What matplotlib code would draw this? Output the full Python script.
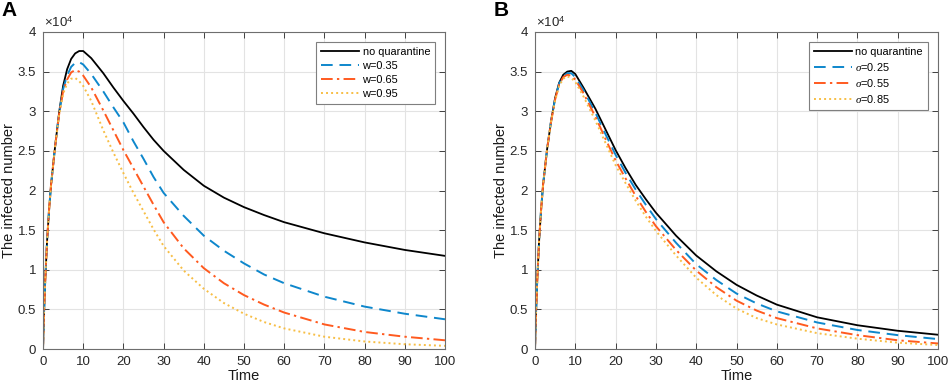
import matplotlib
matplotlib.use("Agg")
import matplotlib.pyplot as plt
import numpy as np

plt.rcParams['font.family'] = ['Liberation Sans', 'DejaVu Sans']
plt.rcParams['mathtext.fontset'] = 'custom'
plt.rcParams['mathtext.it'] = 'Liberation Serif:italic'
plt.rcParams['mathtext.rm'] = 'Liberation Sans'

# time points
t = [0, 0.25, 0.5, 1, 1.5, 2, 3, 4, 5, 6, 7, 8, 9, 10, 12, 15, 17.5, 20, 22.5,
     25, 27.5, 30, 35, 40, 45, 50, 55, 60, 70, 80, 90, 100]

# Panel A (values in units of 1e4)
a_noq = [0, 0.45, 0.8, 1.35, 1.75, 2.07, 2.55, 2.98, 3.32, 3.53, 3.66, 3.73, 3.76, 3.76,
         3.67, 3.48, 3.30, 3.13, 2.97, 2.80, 2.64, 2.50, 2.26, 2.06, 1.91, 1.79, 1.69,
         1.60, 1.46, 1.345, 1.25, 1.175]
a_w035 = [0, 0.45, 0.8, 1.35, 1.75, 2.07, 2.55, 2.97, 3.28, 3.45, 3.56, 3.61, 3.62, 3.59,
          3.47, 3.25, 3.05, 2.86, 2.62, 2.40, 2.17, 1.97, 1.68, 1.43, 1.24, 1.08, 0.94,
          0.83, 0.66, 0.535, 0.445, 0.375]
a_w065 = [0, 0.45, 0.8, 1.35, 1.75, 2.07, 2.55, 2.96, 3.25, 3.40, 3.49, 3.52, 3.50, 3.45,
          3.30, 3.01, 2.76, 2.51, 2.28, 2.05, 1.82, 1.60, 1.27, 1.02, 0.83, 0.68, 0.56,
          0.46, 0.31, 0.215, 0.155, 0.11]
a_w095 = [0, 0.45, 0.8, 1.35, 1.75, 2.07, 2.55, 2.95, 3.22, 3.35, 3.41, 3.42, 3.38, 3.32,
          3.13, 2.76, 2.48, 2.22, 1.97, 1.74, 1.51, 1.30, 0.99, 0.76, 0.58, 0.445, 0.34,
          0.26, 0.155, 0.095, 0.06, 0.04]

# Panel B (values in units of 1e4)
b_noq = [0, 0.45, 0.8, 1.35, 1.75, 2.07, 2.52, 2.88, 3.17, 3.36, 3.46, 3.50, 3.51, 3.47,
         3.30, 3.03, 2.77, 2.51, 2.28, 2.07, 1.89, 1.72, 1.43, 1.18, 0.98, 0.81, 0.675,
         0.56, 0.40, 0.30, 0.23, 0.18]
b_s025 = [0, 0.45, 0.8, 1.35, 1.75, 2.07, 2.52, 2.88, 3.16, 3.35, 3.44, 3.48, 3.48, 3.43,
          3.27, 2.98, 2.71, 2.45, 2.22, 2.01, 1.82, 1.64, 1.34, 1.07, 0.87, 0.70, 0.575,
          0.475, 0.335, 0.24, 0.175, 0.125]
b_s055 = [0, 0.45, 0.8, 1.35, 1.75, 2.07, 2.52, 2.87, 3.15, 3.34, 3.43, 3.46, 3.45, 3.40,
          3.23, 2.93, 2.65, 2.38, 2.15, 1.93, 1.73, 1.55, 1.25, 0.99, 0.78, 0.61, 0.485,
          0.39, 0.26, 0.175, 0.11, 0.07]
b_s085 = [0, 0.45, 0.8, 1.35, 1.75, 2.07, 2.52, 2.87, 3.14, 3.32, 3.41, 3.44, 3.42, 3.37,
          3.19, 2.88, 2.60, 2.32, 2.09, 1.87, 1.67, 1.49, 1.18, 0.90, 0.68, 0.51, 0.39,
          0.31, 0.20, 0.13, 0.08, 0.05]

labels_a = ['no quarantine', 'w=0.35', 'w=0.65', 'w=0.95']
labels_b = ['no quarantine', r'$\it{\sigma}$=0.25', r'$\it{\sigma}$=0.55', r'$\it{\sigma}$=0.85']

xticks = list(range(0, 101, 10))
yticks = [0, 0.5, 1, 1.5, 2, 2.5, 3, 3.5, 4]
ytick_labels = ['0', '0.5', '1', '1.5', '2', '2.5', '3', '3.5', '4']

colors = ['#000000', '#0E87CC', '#FF5A1F', '#F7BE45']
styles = [dict(linestyle='-', linewidth=1.3),
          dict(linestyle=(0, (6, 3.5)), linewidth=1.4),
          dict(linestyle=(0, (6, 2.2, 1.2, 2.2)), linewidth=1.4),
          dict(linestyle=(0, (1.0, 1.6)), linewidth=1.4)]

fig = plt.figure(figsize=(9.48, 3.86), dpi=100)
ax_a = fig.add_axes([43/948, 37/386, 402/948, 317/386])
ax_b = fig.add_axes([535/948, 37/386, 403/948, 317/386])

def draw(ax, series, labels):
    for s, lab, c, st in zip(series, labels, colors, styles):
        ax.plot(t, s, color=c, label=lab, **st)
    ax.set_xlim(0, 100)
    ax.set_ylim(0, 4)
    ax.set_xticks(xticks)
    ax.set_yticks(yticks)
    ax.set_yticklabels(ytick_labels)
    ax.grid(True, color='#E3E3E3', linewidth=0.8)
    ax.set_axisbelow(True)
    ax.tick_params(direction='in', top=True, right=True, length=4, width=0.6,
                   colors='#262626', labelsize=9.5, pad=5)
    for sp in ax.spines.values():
        sp.set_color('#6E6E6E')
        sp.set_linewidth(0.8)
    ax.set_xlabel('Time', fontsize=10.5, labelpad=1, color='#1a1a1a')
    ax.set_ylabel('The infected number', fontsize=10.5, color='#1a1a1a')
    ax.yaxis.set_label_coords(-0.066, 0.5)
    ax.text(0.003, 1.006, r'$\times$10$^4$', transform=ax.transAxes, fontsize=9.5,
            ha='left', va='bottom', color='#262626')
    leg = ax.legend(loc='upper right', bbox_to_anchor=(0.975, 0.969), fontsize=7.9,
                    frameon=True, fancybox=False, framealpha=1, edgecolor='#7F7F7F',
                    handlelength=3.5, handletextpad=0.3, borderpad=0.45,
                    labelspacing=0.38, borderaxespad=0)
    leg.get_frame().set_linewidth(0.8)
    return ax

draw(ax_a, [a_noq, a_w035, a_w065, a_w095], labels_a)
draw(ax_b, [b_noq, b_s025, b_s055, b_s085], labels_b)

fig.text(1/948, 385/386, 'A', fontsize=15, fontweight='bold', ha='left', va='top')
fig.text(494/948, 385/386, 'B', fontsize=15, fontweight='bold', ha='left', va='top')

fig.savefig('out.png', dpi=100)
